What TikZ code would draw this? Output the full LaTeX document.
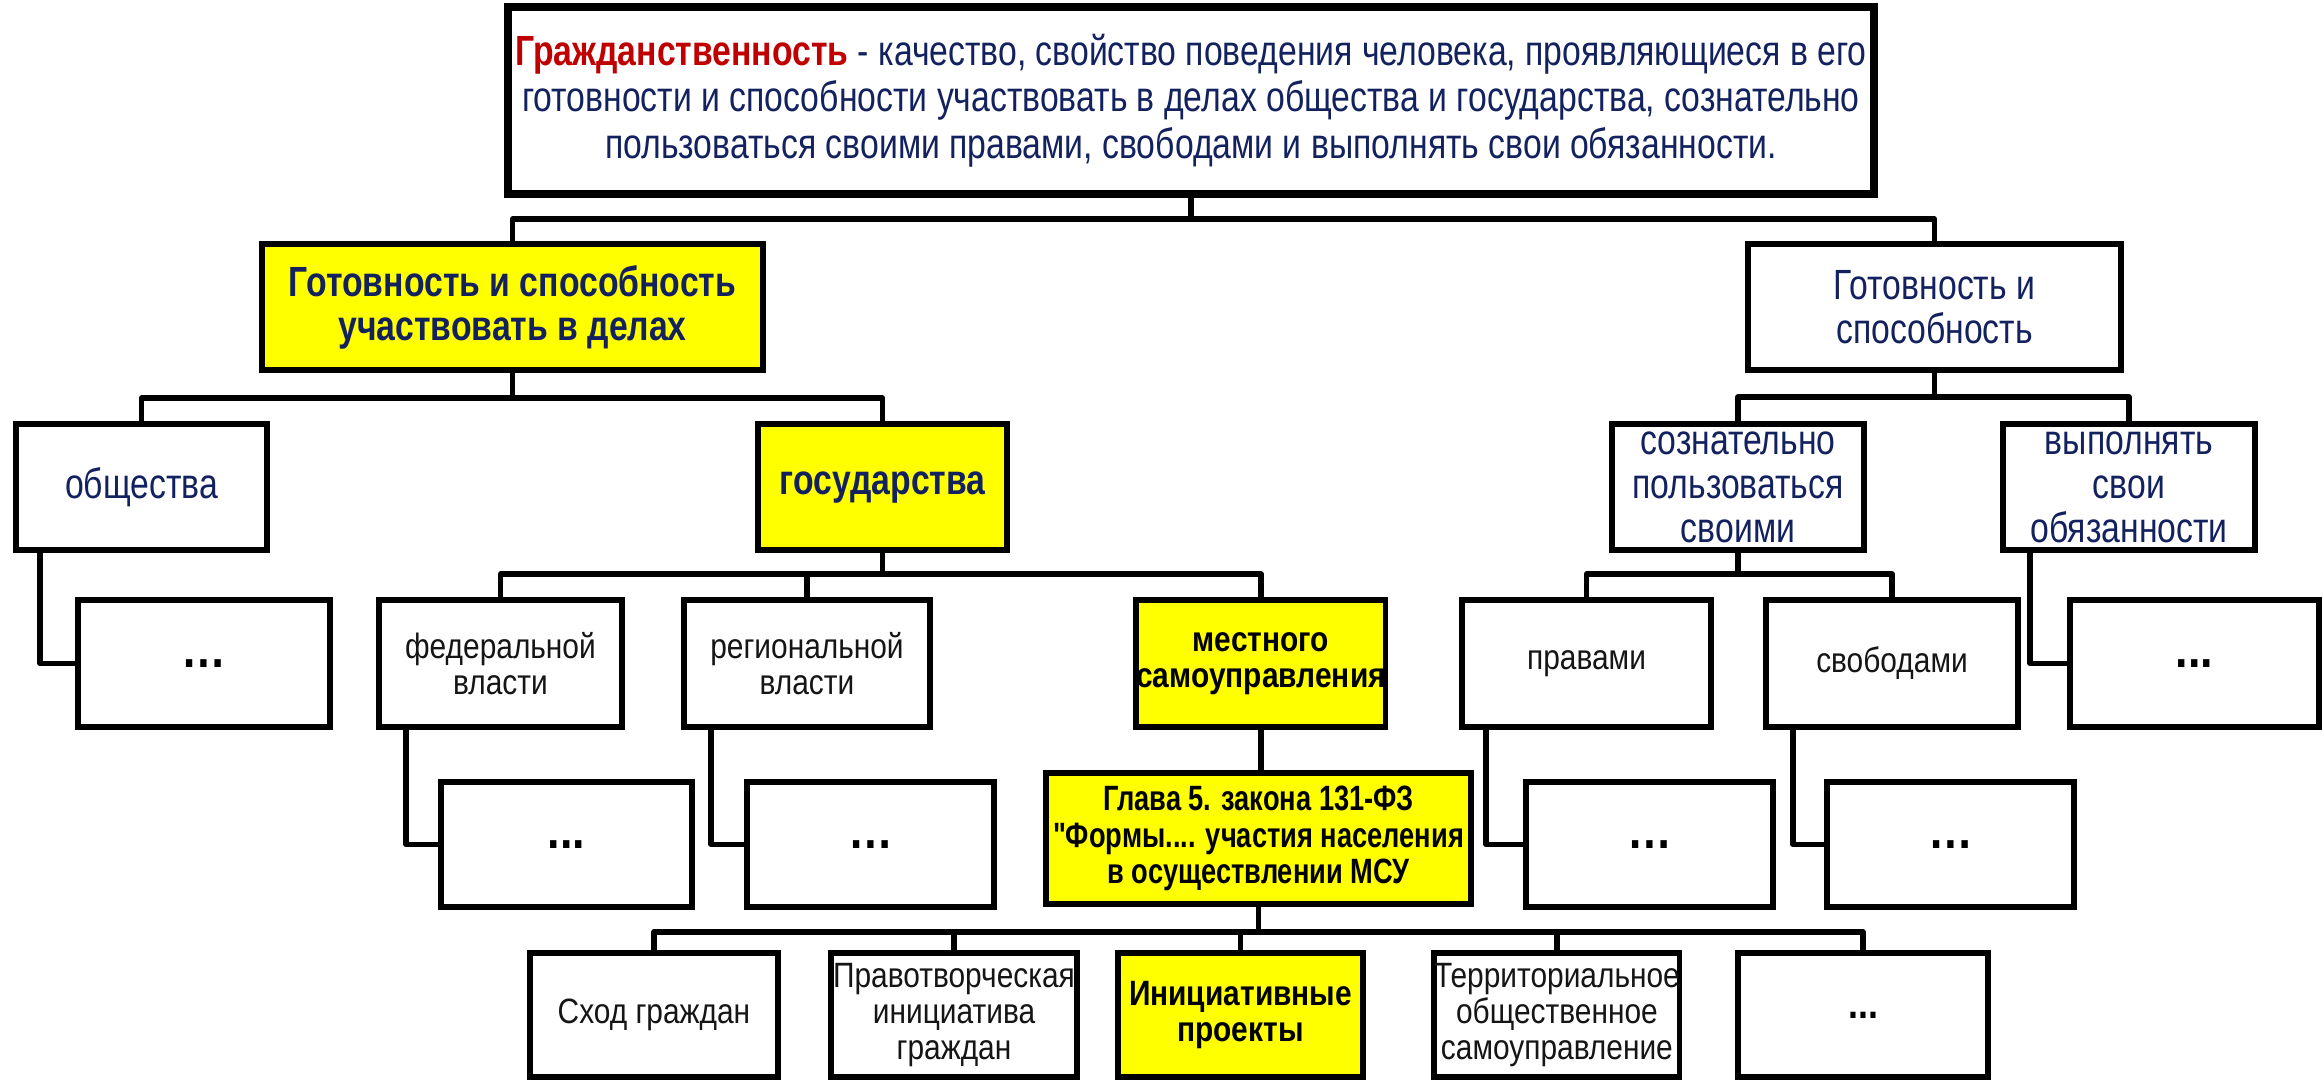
\documentclass[tikz,border=0pt]{standalone}
\usepackage{fontspec}
\setmainfont[FakeStretch=0.85]{Liberation Sans}
\newfontfamily\bigf[FakeStretch=0.80]{Liberation Sans}
\newfontfamily\glf[FakeStretch=0.775]{Liberation Sans}
\usetikzlibrary{calc}
\definecolor{navy}{HTML}{13225F}
\definecolor{redt}{HTML}{C00000}
\definecolor{yel}{HTML}{FFFF00}
\definecolor{ink}{HTML}{151515}
\tikzset{
  box/.style={draw=black, line width=1.5pt, fill=white, inner sep=0pt, outer sep=0pt, anchor=north west, align=center},
  ybox/.style={box, fill=yel},
  bx/.style 2 args={minimum width=#1*0.01cm, minimum height=#2*0.01cm},
  big/.style={font=\bigf\fontsize{12}{12.5}\selectfont},
  bigb/.style={font=\bigf\fontsize{12}{12.5}\selectfont\bfseries},
  small/.style={font=\fontsize{10}{10.3}\selectfont},
  smallb/.style={font=\fontsize{10}{10.3}\selectfont\bfseries},
  conn/.style={draw=black, line width=1.5pt, line cap=round, line join=round},
  dotsbig/.style={font=\fontsize{15}{15}\selectfont\bfseries, text=black},
  dotssmall/.style={font=\fontsize{12}{12}\selectfont\bfseries, text=black},
}
\begin{document}
\begin{tikzpicture}[x=0.01cm, y=-0.01cm]
\useasboundingbox (0,0) rectangle (2323,1081);
% top
\node[box, bx={1366}{187}, line width=2pt, big, text=navy, font=\bigf\fontsize{12}{13.2}\selectfont] (top) at (508,7)
 {{\bfseries\color{redt}Гражданственность} - качество, свойство поведения человека, проявляющиеся в его\\
  готовности и способности участвовать в делах общества и государства, сознательно\\
  пользоваться своими правами, свободами и выполнять свои обязанности.};
% level 2
\node[ybox, bx={501}{126}, bigb, text=navy] (g1) at (262,244)
 {Готовность и способность\\участвовать в делах};
\node[box, bx={373}{126}, big, text=navy] (g2) at (1748,244)
 {Готовность и\\способность};
% level 3
\node[box, bx={251}{126}, big, text=navy] (obsh) at (16,424) {общества};
\node[ybox, bx={249}{126}, bigb, text=navy] (gos) at (758,424) {государства};
\node[box, bx={252}{126}, big, text=navy] (sozn) at (1612,424)
 {сознательно\\пользоваться\\своими};
\node[box, bx={252}{126}, big, text=navy] (vyp) at (2003,424)
 {выполнять\\свои\\обязанности};
% level 4
\node[box, bx={252}{127}, dotsbig] (d1) at (78,600) {\ldots};
\node[box, bx={243}{127}, small, text=ink] (fed) at (379,600) {федеральной\\власти};
\node[box, bx={246}{127}, small, text=ink] (reg) at (684,600) {региональной\\власти};
\node[ybox, bx={249}{127}, smallb, text=black] (mest) at (1136,600) {местного\\самоуправления};
\node[box, bx={249}{127}, small, text=ink] (prav) at (1462,600) {правами};
\node[box, bx={252}{127}, small, text=ink] (svob) at (1766,600) {свободами};
\node[box, bx={249}{127}, dotsbig] (dvyp) at (2070,600) {...};
% level 5
\node[box, bx={251}{125}, dotsbig] (dfed) at (441,782) {...};
\node[box, bx={247}{125}, dotsbig] (dreg) at (747,782) {\ldots};
\node[ybox, bx={425}{131}, text=black, font=\glf\fontsize{10}{10.3}\selectfont\bfseries] (glava) at (1046,773)
 {Глава 5. закона 131-ФЗ\\\symbol{"22}Формы.... участия населения\\в осуществлении МСУ};
\node[box, bx={247}{125}, dotsbig] (dprav) at (1526,782) {\ldots};
\node[box, bx={247}{125}, dotsbig] (dsvob) at (1827,782) {\ldots};
% bottom row
\node[box, bx={248}{124}, small, text=ink] (skhod) at (530,953) {Сход граждан};
\node[box, bx={246}{124}, small, text=ink] (pravotv) at (831,953) {Правотворческая\\инициатива\\граждан};
\node[ybox, bx={245}{124}, smallb, text=black] (init) at (1118,953) {Инициативные\\проекты};
\node[box, bx={245}{124}, small, text=ink] (terr) at (1434,953) {Территориальное\\общественное\\самоуправление};
\node[box, bx={250}{124}, dotssmall] (db) at (1738,953) {...};
% connectors
\draw[conn] (top.south) -- ++(0,25) -| (g1.north);
\draw[conn] (top.south) -- ++(0,25) -| (g2.north);
\draw[conn] (g1.south) -- ++(0,28) -| (obsh.north);
\draw[conn] (g1.south) -- ++(0,28) -| (gos.north);
\draw[conn] (gos.south) -- ++(0,24) -| (fed.north);
\draw[conn] (gos.south) -- ++(0,24) -| (reg.north);
\draw[conn] (gos.south) -- ++(0,24) -| (mest.north);
\draw[conn] (g2.south) -- ++(0,27) -| (sozn.north);
\draw[conn] (g2.south) -- ++(0,27) -| (vyp.north);
\draw[conn] (sozn.south) -- ++(0,24) -| (prav.north);
\draw[conn] (sozn.south) -- ++(0,24) -| (svob.north);
\draw[conn] ($(obsh.south west)+(24,0)$) |- (d1.west);
\draw[conn] ($(fed.south west)+(27,0)$) |- (dfed.west);
\draw[conn] ($(reg.south west)+(27,0)$) |- (dreg.west);
\draw[conn] ($(prav.south west)+(24,0)$) |- (dprav.west);
\draw[conn] ($(svob.south west)+(27,0)$) |- (dsvob.west);
\draw[conn] ($(vyp.south west)+(27,0)$) |- (dvyp.west);
\draw[conn] (mest.south) -- (mest.south |- glava.north);
\draw[conn] (glava.south) -- ++(0,28) -| (skhod.north);
\draw[conn] (glava.south) -- ++(0,28) -| (pravotv.north);
\draw[conn] (glava.south) -- ++(0,28) -| (init.north);
\draw[conn] (glava.south) -- ++(0,28) -| (terr.north);
\draw[conn] (glava.south) -- ++(0,28) -| (db.north);
\end{tikzpicture}
\end{document}
